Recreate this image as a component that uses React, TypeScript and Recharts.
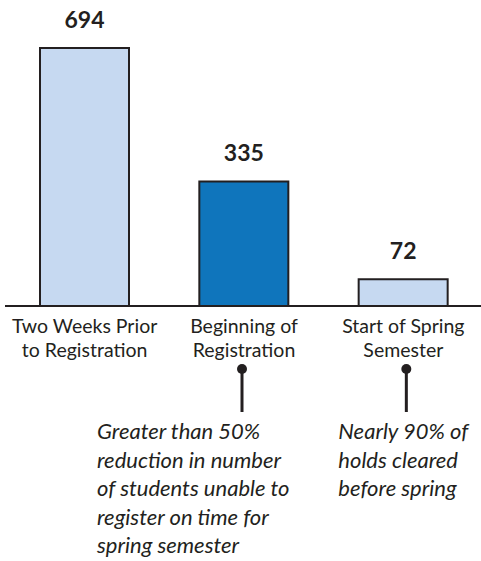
import { BarChart, Bar, XAxis, YAxis, Cell, LabelList } from 'recharts'

// ── Datos ──────────────────────────────────────────────────────────────────────
const categories = ['Two Weeks Prior\nto Registration', 'Beginning of\nRegistration', 'Start of Spring\nSemester']
const holds = [694, 335, 72]
const highlighted = [false, true, false]
const notes = [
  '',
  'Greater than 50%\nreduction in number\nof students unable to\nregister on time for\nspring semester',
  'Nearly 90% of\nholds cleared\nbefore spring',
]

// layout of the callouts, relative to the bar centre
const NOTE_DX = [0, -147, -65]
const PIN_DX = [0, -2, 3]

const INK = '#231f20'
const FONT = 'Lato, "Open Sans", sans-serif'

const data = categories.map((name, i) => ({
  name,
  value: holds[i],
  highlighted: highlighted[i],
  note: notes[i],
}))

interface TickProps {
  x?: number
  y?: number
  payload?: { value: string; index: number }
}

// ── Etiqueta de categoría + nota ───────────────────────────────────────────────
function CategoryTick({ x = 0, y = 0, payload }: TickProps) {
  if (!payload) return null
  const idx = categories.indexOf(payload.value)
  const lines = payload.value.split('\n')
  const note = notes[idx]
  const base = 306 // axis baseline
  const off = y - base
  return (
    <g>
      <text textAnchor="middle" fontFamily={FONT} fontSize={19.5} fill={INK}>
        {lines.map((l, i) => (
          <tspan key={i} x={x} y={y - off + 27 + i * 24}>
            {l}
          </tspan>
        ))}
      </text>
      {note && (
        <g>
          <line
            x1={x + PIN_DX[idx]}
            x2={x + PIN_DX[idx]}
            y1={y - off + 63}
            y2={y - off + 106}
            stroke={INK}
            strokeWidth={3}
          />
          <circle cx={x + PIN_DX[idx]} cy={y - off + 63} r={5} fill={INK} />
          <text fontFamily={FONT} fontStyle="italic" fontSize={22} fill={INK}>
            {note.split('\n').map((l, i) => (
              <tspan key={i} x={x + NOTE_DX[idx]} y={y - off + 133 + i * 28.5}>
                {l}
              </tspan>
            ))}
          </text>
        </g>
      )}
    </g>
  )
}

export default function App() {
  return (
    <div style={{ position: 'absolute', left: 0, top: 0, width: 481, height: 561, background: '#fff' }}>
      <BarChart width={481} height={561} data={data} margin={{ top: 48, right: -2, left: 5, bottom: 0 }}>
        <YAxis hide domain={[0, 'dataMax']} />
        <XAxis
          dataKey="name"
          height={255}
          tickLine={false}
          axisLine={{ stroke: INK, strokeWidth: 2 }}
          tick={<CategoryTick />}
          interval={0}
        />
        <Bar dataKey="value" barSize={89} stroke={INK} strokeWidth={2} isAnimationActive={false}>
          {data.map((d, i) => (
            <Cell key={i} fill={d.highlighted ? '#0f75bc' : '#c6d9f1'} />
          ))}
          <LabelList
            dataKey="value"
            position="top"
            offset={20}
            fill={INK}
            fontFamily={FONT}
            fontWeight="bold"
            fontSize={23}
          />
        </Bar>
      </BarChart>
    </div>
  )
}
